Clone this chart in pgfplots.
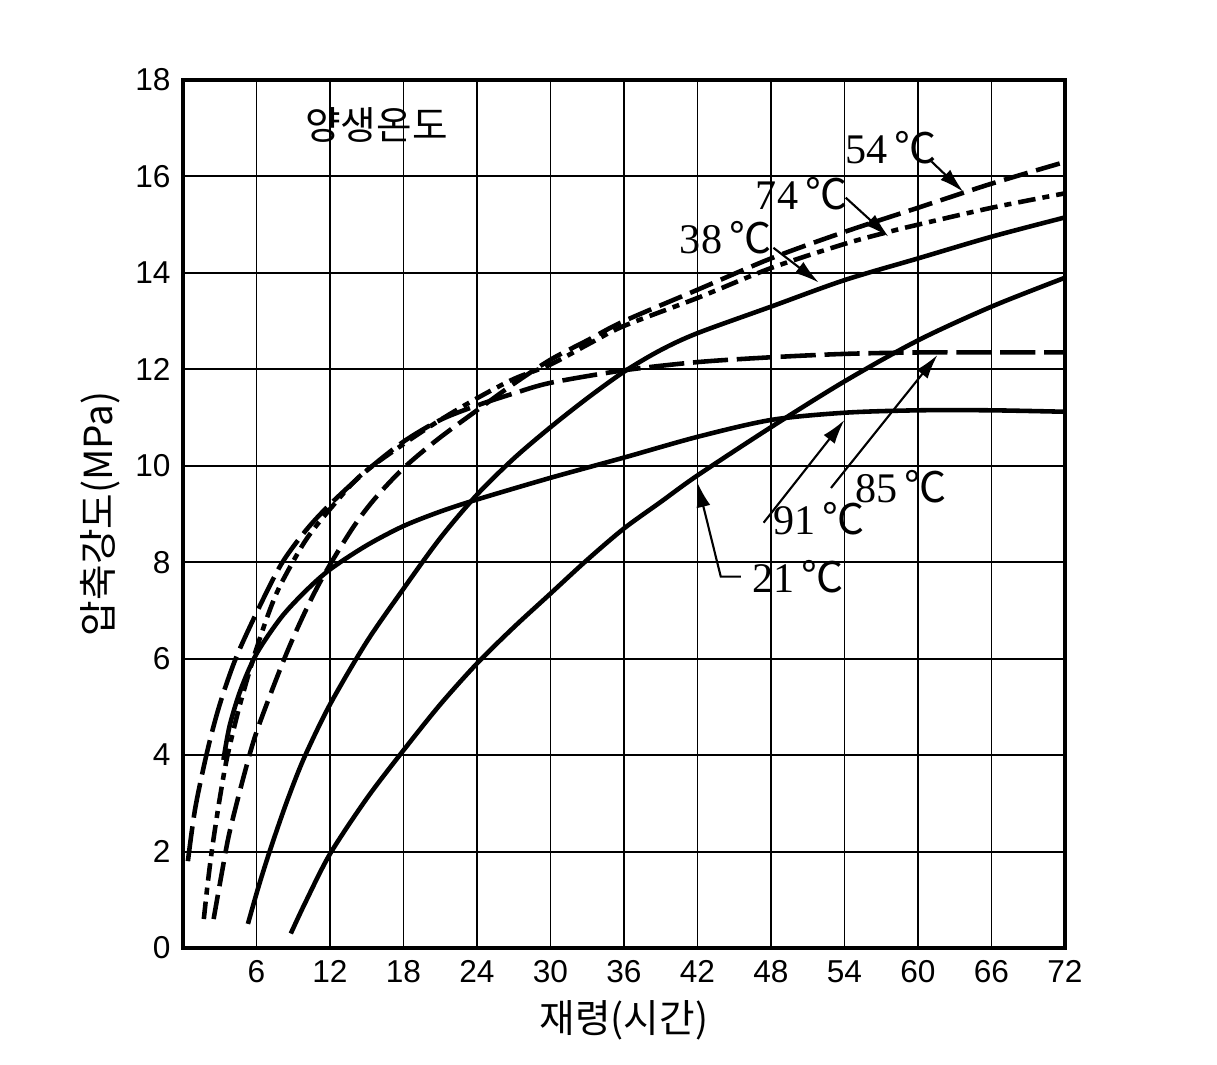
\documentclass[border=0pt]{standalone}
\usepackage{fontspec}
\setmainfont{Liberation Serif}
\newfontfamily\cjk{Noto Sans CJK KR}
\newfontfamily\tickfont{Liberation Sans}
\usepackage{pgfplots}
\pgfplotsset{compat=1.18}
\usetikzlibrary{arrows.meta}
\newcommand{\degC}{{\cjk ℃}}
\begin{document}
\begin{tikzpicture}[x=1cm,y=1cm]
\begin{axis}[
  at={(0,0)}, anchor=south west,
  scale only axis, width=8.82cm, height=8.68cm,
  xmin=0, xmax=72, ymin=0, ymax=18,
  xtick={6,12,...,72}, ytick={0,2,...,18},
  grid=major, major grid style={black, line width=0.55pt},
  axis line style={line width=1.1pt},
  major tick length=0pt,
  tick label style={font=\tickfont\fontsize{9}{10}\selectfont},
  /pgf/number format/assume math mode=true,
  clip=false,
  xlabel={\cjk 재령(시간)},
  ylabel={\cjk 압축강도(MPa)},
  label style={font=\cjk\fontsize{11}{12}\selectfont},
  xlabel style={at={(axis description cs:0.5,-0.083)}, anchor=center},
  ylabel style={at={(axis description cs:-0.094,0.5)}, anchor=center},
  curve/.style={black, line width=1.3pt, smooth, mark=none},
]
% 21 C
\addplot[curve] coordinates {(8.8,0.3) (10,0.95) (12,1.95) (15,3.1) (18,4.1) (21,5.05) (24,5.9) (27,6.65) (30,7.35) (33,8.05) (36,8.7) (39,9.25) (42,9.8) (48,10.8) (54,11.75) (60,12.6) (66,13.3) (72,13.9)};
% 38 C
\addplot[curve] coordinates {(5.3,0.5) (6.2,1.3) (7.2,2.1) (8.5,3.05) (9.9,3.95) (12,5.05) (15,6.35) (18,7.45) (21,8.5) (24,9.4) (27,10.15) (30,10.8) (33,11.4) (36,11.95) (39,12.4) (42,12.75) (48,13.3) (54,13.85) (60,14.3) (66,14.75) (72,15.15)};
% 54 C
\addplot[curve, dash pattern=on 7pt off 2.5pt] coordinates {(2.5,0.6) (3.2,1.6) (3.8,2.4) (5,3.6) (6.1,4.55) (8.6,6.2) (11,7.5) (13.7,8.65) (15.6,9.3) (18,9.95) (20.8,10.55) (24,11.15) (27,11.7) (30,12.2) (33,12.6) (36,13.0) (42,13.65) (48,14.3) (54,14.85) (60,15.35) (66,15.85) (72,16.3)};
% 74 C
\addplot[curve, dash pattern=on 5pt off 2pt on 2pt off 2pt] coordinates {(1.7,0.6) (2.0,1.3) (2.4,2.1) (3,3.1) (3.6,3.95) (4.6,5.0) (5.8,6.05) (7,6.95) (8,7.55) (10,8.45) (12,9.1) (14.5,9.8) (18,10.45) (21,10.95) (24,11.4) (27,11.8) (30,12.1) (33.3,12.55) (36,12.9) (42,13.48) (48,14.1) (54,14.6) (57.6,14.85) (60,15.0) (66,15.35) (72,15.65)};
% 85 C
\addplot[curve, dash pattern=on 10pt off 2.5pt] coordinates {(0.4,1.8) (1,2.9) (2,4.1) (3,5.05) (4.3,6.0) (6,6.95) (8,7.95) (10,8.65) (12,9.2) (15,9.9) (18,10.5) (21,10.95) (24,11.25) (27,11.5) (30,11.72) (36,11.98) (42,12.15) (48,12.25) (54,12.32) (60,12.35) (66,12.35) (72,12.35)};
% 91 C
\addplot[curve] coordinates {(3.3,3.9) (3.8,4.6) (4.7,5.35) (6,6.1) (8,6.85) (10,7.4) (12,7.85) (15,8.35) (18,8.75) (21,9.05) (24,9.3) (30,9.75) (36,10.17) (42,10.6) (48,10.95) (54,11.1) (60,11.15) (66,11.15) (72,11.12)};

\node[font=\cjk\fontsize{11}{12}\selectfont] at (axis cs:15.8,17.07) {양생온도};
\tikzset{lab/.style={font=\fontsize{12}{13}\selectfont, inner sep=1pt}, arr/.style={line width=0.6pt, -{Latex[length=7pt,width=4pt]}}}
\node[lab] at (axis cs:57.8,16.6) {54\,\degC};
\draw[arr] (axis cs:61.1,16.31) -- (axis cs:63.7,15.68);
\node[lab] at (axis cs:50.5,15.65) {74\,\degC};
\draw[arr] (axis cs:54.1,15.56) -- (axis cs:57.6,14.75);
\node[lab] at (axis cs:44.3,14.73) {38\,\degC};
\draw[arr] (axis cs:48.2,14.52) -- (axis cs:51.9,13.8);
\node[lab] at (axis cs:58.6,9.56) {85\,\degC};
\draw[arr] (axis cs:52.9,9.54) -- (axis cs:61.6,12.3);
\node[lab] at (axis cs:51.9,8.91) {91\,\degC};
\draw[arr] (axis cs:47.4,8.82) -- (axis cs:54,10.95);
\node[lab] at (axis cs:50.2,7.7) {21\,\degC};
\draw[arr] (axis cs:45.55,7.70) -- (axis cs:43.9,7.70) -- (axis cs:42.0,9.65);
\end{axis}
\pgfresetboundingbox
\path[use as bounding box] (-1.83,-1.17) rectangle (10.34,9.48);
\end{tikzpicture}
\end{document}
